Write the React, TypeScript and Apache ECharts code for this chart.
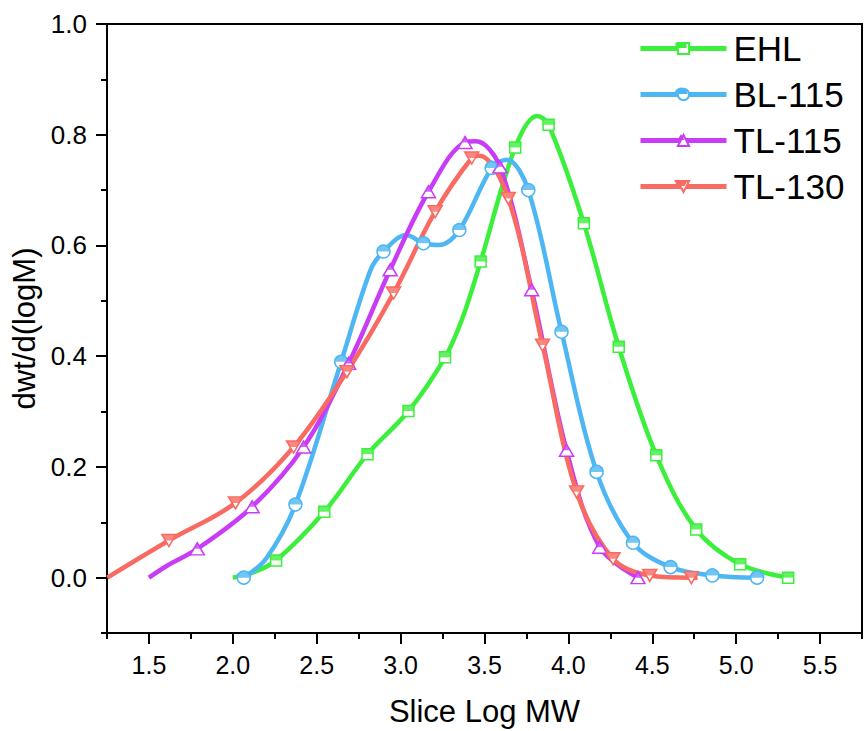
import React, { useEffect, useRef } from 'react';
import * as echarts from 'echarts';

const FONT = 'Arial, "Liberation Sans", sans-serif';

const xMajorTicks = [1.5, 2.0, 2.5, 3.0, 3.5, 4.0, 4.5, 5.0, 5.5];
const xMinorTicks = [1.25, 1.75, 2.25, 2.75, 3.25, 3.75, 4.25, 4.75, 5.25, 5.75];
const yMajorTicks = [0, 0.2, 0.4, 0.6, 0.8, 1.0];
const yMinorTicks = [-0.1, 0.1, 0.3, 0.5, 0.7, 0.9];

const seriesNames = ['EHL', 'BL-115', 'TL-115', 'TL-130'];
const seriesColors = ['#3CEF3C', '#4DB6F3', '#C93CF6', '#F96A62'];

// marked points (with symbols)
const ehlMarkers: [number, number][] = [
  [2.258, 0.031], [2.545, 0.119], [2.803, 0.223], [3.047, 0.301], [3.265, 0.398],
  [3.477, 0.571], [3.683, 0.777], [3.882, 0.818], [4.092, 0.640], [4.300, 0.417],
  [4.524, 0.221], [4.762, 0.087], [5.024, 0.024], [5.310, 0.0],
];
const ehlExtra: [number, number][] = [[2.0, 0.0], [2.125, 0.010], [3.37, 0.47], [3.814, 0.834]];

const bl115Markers: [number, number][] = [
  [2.065, 0.0], [2.373, 0.132], [2.646, 0.390], [2.898, 0.589], [3.136, 0.604],
  [3.350, 0.628], [3.543, 0.740], [3.761, 0.700], [3.959, 0.444], [4.168, 0.191],
  [4.385, 0.063], [4.609, 0.019], [4.858, 0.004], [5.125, 0.0],
];
const bl115Extra: [number, number][] = [[2.2, 0.035], [2.82, 0.555], [3.035, 0.619], [3.23, 0.601], [3.632, 0.755]];

const tl115Markers: [number, number][] = [
  [1.788, 0.052], [2.115, 0.128], [2.422, 0.236], [2.690, 0.387], [2.938, 0.556],
  [3.166, 0.697], [3.384, 0.786], [3.592, 0.742], [3.781, 0.520], [3.989, 0.230],
  [4.187, 0.055], [4.415, 0.0],
];
const tl115Extra: [number, number][] = [[1.5, 0.0], [1.61, 0.022], [3.45, 0.788]];

const tl130Markers: [number, number][] = [
  [1.619, 0.067], [2.016, 0.135], [2.362, 0.236], [2.680, 0.372], [2.958, 0.514],
  [3.206, 0.661], [3.424, 0.758], [3.642, 0.685], [3.846, 0.420], [4.049, 0.155],
  [4.266, 0.034], [4.485, 0.004], [4.733, 0.0],
];
const tl130Extra: [number, number][] = [[1.252, 0.0], [3.47, 0.762], [4.77, 0.0]];

const DOWN_TRI = 'path://M0,0 L20,0 L10,20 Z';
const HALF_CIRCLE = 'path://M0,10 A10,10 0 0 1 20,10 Z';
const HALF_DOWN_TRI = 'path://M0,0 L20,0 L15,10 L5,10 Z';

const symbolDefs = [
  { outline: 'rect', size: [11, 11], half: 'rect', halfSize: [11, 5.5] },
  { outline: 'circle', size: [13, 13], half: HALF_CIRCLE, halfSize: [13, 6.5] },
  { outline: 'triangle', size: [14, 12], half: 'triangle', halfSize: [7, 6] },
  { outline: DOWN_TRI, size: [14, 12], half: HALF_DOWN_TRI, halfSize: [14, 6] },
];

function buildSeries(idx: number, markers: [number, number][], extra: [number, number][]) {
  const name = seriesNames[idx];
  const color = seriesColors[idx];
  const def = symbolDefs[idx];
  const all = [
    ...markers.map((p) => ({ p, m: true })),
    ...extra.map((p) => ({ p, m: false })),
  ].sort((a, b) => a.p[0] - b.p[0]);
  const line = {
    name,
    type: 'line',
    smooth: 0.35,
    symbol: def.outline,
    symbolSize: def.size,
    showSymbol: true,
    showAllSymbol: true,
    lineStyle: { color, width: 4.5 },
    itemStyle: { color: '#ffffff', borderColor: color, borderWidth: 1.5 },
    emphasis: { disabled: true },
    z: 2,
    data: all.map((d) => ({
      value: d.p,
      symbol: d.m ? def.outline : 'none',
    })),
  };
  const half = {
    name,
    type: 'scatter',
    symbol: def.half,
    symbolSize: def.halfSize,
    symbolOffset: [0, -def.halfSize[1] / 2],
    itemStyle: { color },
    emphasis: { disabled: true },
    z: 3,
    data: markers,
  };
  return [line, half];
}

// legend half-filled icon overlays (layout positions)
const LEG_X = 681;
const LEG_Y0 = 48;
const LEG_DY = 46;

function legendHalves() {
  const out: any[] = [];
  const c0 = LEG_Y0, c1 = LEG_Y0 + LEG_DY, c2 = LEG_Y0 + 2 * LEG_DY, c3 = LEG_Y0 + 3 * LEG_DY;
  out.push({ type: 'rect', shape: { x: LEG_X - 5.5, y: c0 - 5.5, width: 11, height: 5.5 }, style: { fill: seriesColors[0] }, z: 100 });
  out.push({ type: 'sector', shape: { cx: LEG_X, cy: c1, r: 6.5, startAngle: Math.PI, endAngle: Math.PI * 2, clockwise: true }, style: { fill: seriesColors[1] }, z: 100 });
  out.push({ type: 'polygon', shape: { points: [[LEG_X, c2 - 6], [LEG_X + 3.5, c2], [LEG_X - 3.5, c2]] }, style: { fill: seriesColors[2] }, z: 100 });
  out.push({ type: 'polygon', shape: { points: [[LEG_X - 7, c3 - 6], [LEG_X + 7, c3 - 6], [LEG_X + 3.5, c3], [LEG_X - 3.5, c3]] }, style: { fill: seriesColors[3] }, z: 100 });
  return out;
}

const axisText = { color: '#000', fontFamily: FONT };

export default function App() {
  const ref = useRef<HTMLDivElement>(null);
  useEffect(() => {
    if (!ref.current) return;
    const chart = echarts.init(ref.current, undefined, { renderer: 'svg' });
    const series = [
      ...buildSeries(0, ehlMarkers, ehlExtra),
      ...buildSeries(1, bl115Markers, bl115Extra),
      ...buildSeries(2, tl115Markers, tl115Extra),
      ...buildSeries(3, tl130Markers, tl130Extra),
    ];
    chart.setOption({
      animation: false,
      backgroundColor: '#ffffff',
      grid: {
        left: 107, right: 5, top: 24, bottom: 98,
        show: true, borderColor: '#000', borderWidth: 2,
        containLabel: false, outerBoundsMode: 'none',
      },
      legend: {
        data: seriesNames,
        orient: 'vertical',
        left: 633,
        top: 26,
        itemWidth: 86,
        itemHeight: 14,
        itemGap: 11,
        lineStyle: { width: 5 },
        textStyle: { fontSize: 35, color: '#000', fontFamily: FONT, padding: [0, 0, 0, 2] },
      },
      graphic: legendHalves(),
      xAxis: [
        {
          type: 'value', min: 1.25, max: 5.75, position: 'bottom',
          name: 'Slice Log MW', nameLocation: 'middle', nameGap: 63,
          nameTextStyle: { fontSize: 31, ...axisText },
          axisLine: { show: true, onZero: false, lineStyle: { color: '#000', width: 2 } },
          axisTick: { show: true, customValues: xMajorTicks, length: 11, lineStyle: { color: '#000', width: 2 } },
          axisLabel: { customValues: xMajorTicks, formatter: (v: number) => v.toFixed(1), fontSize: 25, margin: 19, ...axisText },
          splitLine: { show: false },
        },
        {
          type: 'value', min: 1.25, max: 5.75, position: 'bottom', offset: 0,
          axisLine: { show: false, onZero: false },
          axisTick: { show: true, customValues: xMinorTicks, length: 6, lineStyle: { color: '#000', width: 2 } },
          axisLabel: { show: false },
          splitLine: { show: false },
        },
      ],
      yAxis: [
        {
          type: 'value', min: -0.1, max: 1.0, position: 'left',
          name: 'dwt/d(logM)', nameLocation: 'middle', nameGap: 64,
          nameTextStyle: { fontSize: 31, ...axisText },
          axisLine: { show: true, onZero: false, lineStyle: { color: '#000', width: 2 } },
          axisTick: { show: true, customValues: yMajorTicks, length: 11, lineStyle: { color: '#000', width: 2 } },
          axisLabel: { customValues: yMajorTicks, formatter: (v: number) => v.toFixed(1), fontSize: 26, margin: 20, ...axisText },
          splitLine: { show: false },
        },
        {
          type: 'value', min: -0.1, max: 1.0, position: 'left', offset: 0,
          axisLine: { show: false, onZero: false },
          axisTick: { show: true, customValues: yMinorTicks, length: 6, lineStyle: { color: '#000', width: 2 } },
          axisLabel: { show: false },
          splitLine: { show: false },
        },
      ],
      series,
    });
    return () => chart.dispose();
  }, []);
  return (
    <div
      ref={ref}
      style={{ position: 'fixed', left: 0, top: 0, width: 867, height: 731, background: '#fff' }}
    />
  );
}
